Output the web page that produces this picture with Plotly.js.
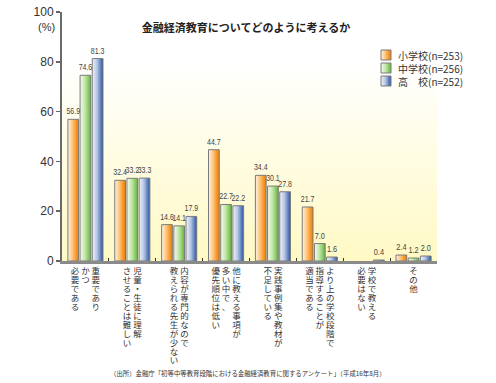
<!DOCTYPE html>
<html>
<head>
<meta charset="utf-8">
<script src="https://cdn.plot.ly/plotly-3.0.1.min.js"></script>
<style>
html,body{margin:0;padding:0;background:#fff;}
#chart{width:496px;height:383px;}
</style>
</head>
<body>
<div id="chart"></div>
<script>
// ---- data ----
const categoryColumns = [
  ['重要であり', 'かつ', '必要である'],
  ['児童・生徒に理解', 'させることは難しい'],
  ['内容が専門的なので', '教えられる先生が少ない'],
  ['他に教える事項が', '多い中で、', '優先順位は低い'],
  ['実践事例集や教材が', '不足している'],
  ['より上の学校段階で', '指導することが', '適当である'],
  ['学校で教える', '必要はない'],
  ['その他']
];
const seriesNames = ['小学校(n=253)', '中学校(n=256)', '高　校(n=252)'];
const elementary = [56.9, 32.4, 14.6, 44.7, 34.4, 21.7, null, 2.4];
const middle     = [74.6, 33.2, 14.1, 22.7, 30.1, 7.0, null, 1.2];
const high       = [81.3, 33.3, 17.9, 22.2, 27.8, 1.6, 0.4, 2.0];
const yTickVals  = [0, 20, 40, 60, 80, 100];
const titleText  = '金融経済教育についてどのように考えるか';
const unitText   = '(%)';
const sourceText = '（出所）金融庁「初等中等教育段階における金融経済教育に関するアンケート」（平成16年8月）';

// ---- build ----
const categories = categoryColumns.map(c => c.join(''));
function verticalLabel(cols) {
  const chars = cols.slice().reverse().map(c => Array.from(c));
  const n = Math.max(...chars.map(c => c.length));
  const lines = [];
  for (let i = 0; i < n; i++) {
    lines.push(chars.map(c => c[i] || '\u3000').join('\u00A0'));
  }
  return lines.join('<br>');
}
const tickText = categoryColumns.map(verticalLabel);

const seriesValues = [elementary, middle, high];
const baseColors = ['#f7931e', '#8fd070', '#4a6fb5'];
const traces = seriesValues.map((vals, i) => ({
  type: 'bar',
  name: seriesNames[i],
  x: categories,
  y: vals,
  marker: {color: baseColors[i], line: {color: '#7a7a7a', width: 1}},
  texttemplate: '%{y:.1f}',
  textposition: 'outside',
  constraintext: 'none',
  cliponaxis: false,
  textfont: {family: 'Liberation Sans, sans-serif', size: 9, color: '#444'},
  hoverinfo: 'skip',
  showlegend: false
}));

// plot area geometry (px) used to place legend items in paper coords
const L = 62, R = 437, T = 12, B = 261;
const px2x = p => (p - L) / (R - L);
const py2y = p => (B - p) / (B - T);
const legendRows = [55, 68, 81];
const shapes = legendRows.map((cy, i) => ({
  type: 'rect', xref: 'paper', yref: 'paper',
  x0: px2x(381), x1: px2x(391), y0: py2y(cy + 5), y1: py2y(cy - 5),
  fillcolor: baseColors[i], line: {color: '#7a7a7a', width: 1}
}));
const annotations = legendRows.map((cy, i) => ({
  xref: 'paper', yref: 'paper', x: px2x(396), y: py2y(cy),
  xanchor: 'left', yanchor: 'middle', showarrow: false,
  text: seriesNames[i],
  font: {family: 'Noto Sans CJK JP', size: 10, color: '#333'}
}));
annotations.push({
  xref: 'paper', yref: 'paper', x: px2x(46), y: py2y(27),
  xanchor: 'center', yanchor: 'middle', showarrow: false, text: unitText,
  font: {family: 'Liberation Sans, sans-serif', size: 11, color: '#333'}
});
annotations.push({
  xref: 'paper', yref: 'paper', x: px2x(248), y: py2y(373),
  xanchor: 'center', yanchor: 'middle', showarrow: false, text: sourceText,
  font: {family: 'Noto Sans CJK JP', size: 6.4, color: '#333'}
});

const layout = {
  width: 496, height: 383,
  margin: {l: L, r: 496 - R, t: T, b: 383 - B, pad: 0},
  paper_bgcolor: '#ffffff',
  plot_bgcolor: '#fffbe0',
  barmode: 'group',
  bargap: 0.22,
  bargroupgap: 0.12,
  title: {
    text: '<b>' + titleText + '</b>',
    font: {family: 'Noto Sans CJK JP', size: 11, color: '#222'},
    x: 0.496, xref: 'container', y: 1 - 28 / 383, yref: 'container', yanchor: 'middle'
  },
  xaxis: {
    type: 'category',
    tickmode: 'array', tickvals: categories, ticktext: tickText,
    tickangle: 0,
    tickson: 'boundaries', ticks: 'inside', ticklen: 3, tickcolor: '#333', tickwidth: 1,
    showline: true, linecolor: '#8a8a8a', linewidth: 3,
    tickfont: {family: 'Noto Sans CJK JP', size: 8.5, color: '#333'},
    automargin: false, fixedrange: true
  },
  yaxis: {
    range: [0, 100], tickmode: 'array', tickvals: yTickVals,
    ticks: 'outside', ticklen: 4, tickcolor: '#666', tickwidth: 1.5,
    showline: true, linecolor: '#6a6a6a', linewidth: 2,
    showgrid: false, zeroline: false,
    tickfont: {family: 'Liberation Sans, sans-serif', size: 12, color: '#333'},
    automargin: false, fixedrange: true
  },
  shapes: shapes,
  annotations: annotations,
  showlegend: false
};

const gd = document.getElementById('chart');
Plotly.newPlot(gd, traces, layout, {staticPlot: true, displayModeBar: false}).then(() => {
  const svg = gd.querySelector('svg.main-svg');
  const NS = 'http://www.w3.org/2000/svg';
  const defs = document.createElementNS(NS, 'defs');
  function grad(id, stops, vertical) {
    const g = document.createElementNS(NS, 'linearGradient');
    g.setAttribute('id', id);
    g.setAttribute('x1', '0'); g.setAttribute('y1', '0');
    g.setAttribute('x2', vertical ? '0' : '1'); g.setAttribute('y2', vertical ? '1' : '0');
    stops.forEach(s => {
      const st = document.createElementNS(NS, 'stop');
      st.setAttribute('offset', s[0]); st.setAttribute('stop-color', s[1]);
      g.appendChild(st);
    });
    defs.appendChild(g);
  }
  grad('g0', [[0, '#fff4e2'], [0.45, '#fcc27a'], [0.8, '#f7931e'], [1, '#ef7d10']]);
  grad('g1', [[0, '#f4fbee'], [0.45, '#c3e6aa'], [0.8, '#86c863'], [1, '#5fb03c']]);
  grad('g2', [[0, '#f1f4fa'], [0.45, '#b4c4e3'], [0.8, '#5a7dbd'], [1, '#2f569f']]);
  grad('gbg', [[0, '#ffffff'], [0.2, '#ffffff'], [1, '#fff9c4']], true);
  svg.insertBefore(defs, svg.firstChild);

  gd.querySelectorAll('rect.bg').forEach(r => { r.style.fill = 'url(#gbg)'; });
  gd.querySelectorAll('.trace.bars').forEach((tr, i) => {
    tr.querySelectorAll('.point path').forEach(p => { p.style.fill = 'url(#g' + i + ')'; });
  });
  gd.querySelectorAll('.shapelayer path').forEach((p, i) => {
    if (i < 3) p.style.fill = 'url(#g' + i + ')';
  });
  // bring value labels above all bars, condensed like the reference
  const barLayer = gd.querySelector('.barlayer');
  if (barLayer) {
    const top = document.createElementNS(NS, 'g');
    top.setAttribute('class', 'valuelabels');
    gd.querySelectorAll('.trace.bars .point text').forEach(t => {
      const n = (t.textContent || '').length;
      t.setAttribute('textLength', (n * 3.4).toFixed(1));
      t.setAttribute('lengthAdjust', 'spacingAndGlyphs');
      top.appendChild(t);
    });
    barLayer.appendChild(top);
  }
  // tighten vertical line pitch of the vertical-writing category labels
  const factor = 1.05 / 1.3;
  gd.querySelectorAll('.xtick text tspan.line').forEach(t => {
    const dy = t.getAttribute('dy');
    if (dy && /em$/.test(dy)) t.setAttribute('dy', (parseFloat(dy) * factor) + 'em');
  });
});
</script>
</body>
</html>
